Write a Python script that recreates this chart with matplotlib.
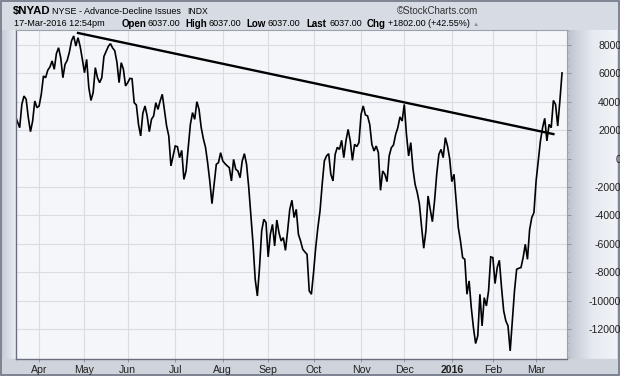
import numpy as np
import pandas as pd
import matplotlib
matplotlib.use("Agg")
import matplotlib.pyplot as plt
from pandas.tseries.offsets import CustomBusinessDay

plt.rcParams['font.family'] = ['Liberation Sans', 'DejaVu Sans']

# NYSE holidays inside the window
holidays = ['2015-04-03', '2015-05-25', '2015-07-03', '2015-09-07', '2015-11-26',
            '2015-12-25', '2016-01-01', '2016-01-18', '2016-02-15']

# daily close of $NYAD, 17-Mar-2015 .. 17-Mar-2016
nyad = [3000, 2600, 2180, 3820, 4410, 4180, 2890, 1900, 2650, 4060,
        3590, 3710, 4530, 5820, 5700, 6230, 6450, 6880, 6290, 7400,
        7810, 7100, 5700, 6640, 6920, 7500, 8300, 8640, 7930, 8520,
        7900, 7000, 6050, 6990, 5000, 4100, 4650, 6410, 5700, 5350,
        5700, 7200, 7550, 7900, 8100, 7800, 7600, 6800, 5350, 6760,
        6300, 5120, 5350, 5650, 5630, 3940, 3780, 2400, 1600, 3200,
        3710, 3000, 1900, 2770, 3010, 3940, 3470, 4060, 4530, 3400,
        2300, 1600, -510, 190, 890, 840, 70, 580, -1460, -870,
        770, 2410, 3240, 2770, 4010, 3470, 2200, 1400, 800, -300,
        -1600, -3170, -1810, -400, -280, 420, -160, -350, -500, -630,
        -1570, -50, -750, -870, -1340, -160, 350, -400, -2000, -4000,
        -6000, -8500, -9670, -7670, -5090, -4270, -4500, -6920, -5330, -4630,
        -6150, -4320, -5210, -5800, -5560, -6460, -5090, -3570, -2930, -4150,
        -3570, -5330, -5800, -6380, -6570, -6740, -9310, -9550, -8030, -6270,
        -4860, -3680, -1810, -160, 190, 350, -1100, -1570, 300, 800,
        650, 1290, 70, 1250, 2060, 1250, -120, 1010, 850, 1130,
        3120, 3710, 3080, 3010, 2410, 1000, 540, 890, 420, -2230,
        -870, -1100, -1620, 190, 770, 960, 1710, 2180, 2940, 2650,
        3820, 1710, 190, 1130, -700, -1810, -2390, -3200, -4800, -6310,
        -5090, -2630, -3570, -4440, -2980, -1100, 300, 650, 70, 1480,
        890, 0, -1620, -1100, -2980, -4860, -5800, -6970, -7090, -9550,
        -8610, -10490, -11900, -13020, -12480, -9550, -11780, -9790, -10370, -9310,
        -6920, -6970, -8800, -7670, -7160, -9080, -10720, -11430, -11780, -13540,
        -11430, -9310, -7790, -7720, -7670, -6970, -6030, -7090, -5000, -4150,
        -3800, -1570, -160, 1250, 2180, 2840, 1250, 2410, 2180, 4100,
        3820, 2300, 4060, 6037]

# trendline through the May 2015 and Dec 2015 highs (trading-day index, value)
trend_x = [29, 249]
trend_y = [8850, 1730]

y_ticks = [8000, 6000, 4000, 2000, 0, -2000, -4000, -6000, -8000, -10000, -12000]
month_labels = ['Apr', 'May', 'Jun', 'Jul', 'Aug', 'Sep', 'Oct', 'Nov', 'Dec', '2016', 'Feb', 'Mar']

dates = pd.date_range('2015-03-17', '2016-03-17', freq=CustomBusinessDay(holidays=holidays))
dates = dates[:len(nyad)]
idx = np.arange(len(nyad))
month_key = dates.year * 12 + dates.month
month_starts = list(np.where(np.diff(month_key) != 0)[0] + 1)

fig = plt.figure(figsize=(6.2, 3.76), dpi=100, facecolor='#d6dbe4')

# side strips with a soft gradient, like the original
grad = np.linspace(0, 1, 256).reshape(1, -1)
bg = fig.add_axes([0, 0, 1, 1], zorder=-5)
bg.set_axis_off()
bg.imshow(grad, extent=(567, 617, 359, 30), aspect='auto',
          cmap=matplotlib.colors.LinearSegmentedColormap.from_list('r', ['#bcc2cd', '#e6e9f0', '#f2f4f8']))
bg.imshow(grad, extent=(1, 16, 359, 30), aspect='auto',
          cmap=matplotlib.colors.LinearSegmentedColormap.from_list('l', ['#c5cad4', '#e9edf5']))
bg.add_patch(plt.Rectangle((1, 359), 616, 16, color='#ced3dc'))
bg.add_patch(plt.Rectangle((0.5, 0.5), 618.5, 374.5, fill=False, ec='#6f7584', lw=1.2))
bg.set_xlim(0, 620)
bg.set_ylim(376, 0)

ax = fig.add_axes([16 / 620, 17 / 376, 551 / 620, 329 / 376])
ax.set_facecolor('#f5f6fa')
ax.plot(idx, nyad, color='black', lw=1.2, solid_joinstyle='miter')
ax.plot(trend_x, trend_y, color='black', lw=1.7)

ax.set_xlim(0.3, 255.3)
ax.set_ylim(-14110, 9060)

ax.yaxis.tick_right()
ax.set_yticks(y_ticks)
ax.set_yticklabels([str(v) for v in y_ticks], fontsize=7.6, color='#222222', ha='right')
ax.tick_params(axis='y', which='major', length=3, width=0.6, color='#888c96', pad=36)
ax.set_yticks(np.arange(-14000, 9001, 500), minor=True)
ax.tick_params(axis='y', which='minor', length=1.5, width=0.5, color='#a0a4ae')

ax.set_xticks(month_starts)
ax.set_xticklabels(month_labels, fontsize=7.6, color='#222222')
for lab in ax.get_xticklabels():
    if lab.get_text() == '2016':
        lab.set_fontweight('bold')
ax.tick_params(axis='x', length=2.5, width=0.6, color='#888c96', pad=1.5)

ax.grid(True, which='major', color='#d9dce3', lw=0.8)
ax.set_axisbelow(True)
for side in ['left', 'bottom']:
    ax.spines[side].set_color('#6a6f7d')
    ax.spines[side].set_linewidth(1.0)
for side in ['right', 'top']:
    ax.spines[side].set_color('#9ca1ac')
    ax.spines[side].set_linewidth(0.8)


# header
def htxt(x, y, s, **kw):
    fig.text(x / 620, 1 - y / 376, s, va='center', ha='left', color='black', **kw)


htxt(13, 11, '$NYAD', fontsize=8.2, fontweight='bold')
htxt(52, 11, 'NYSE - Advance-Decline Issues', fontsize=6.5)
htxt(187, 11, 'INDX', fontsize=6.2)
fig.text(478 / 620, 1 - 11 / 376, '\u00a9StockCharts.com', ha='right', va='center',
         fontsize=7.0, color='#333333')
htxt(14, 24, '17-Mar-2016 12:54pm', fontsize=6.6)
header2 = [(122, 'Open', True), (147, '6037.00', False), (185, 'High', True), (208, '6037.00', False),
           (246, 'Low', True), (268, '6037.00', False), (306, 'Last', True), (329, '6037.00', False),
           (367, 'Chg', True), (388, '+1802.00 (+42.55%)', False)]
for x, s, b in header2:
    htxt(x, 24, s, fontsize=7.0 if b else 6.5, fontweight='bold' if b else 'normal')
fig.text(476 / 620, 1 - 24.5 / 376, '\u25b2', fontsize=4.5, color='#8a8f99', ha='center', va='center')

fig.savefig('out.png', dpi=100, facecolor=fig.get_facecolor())
